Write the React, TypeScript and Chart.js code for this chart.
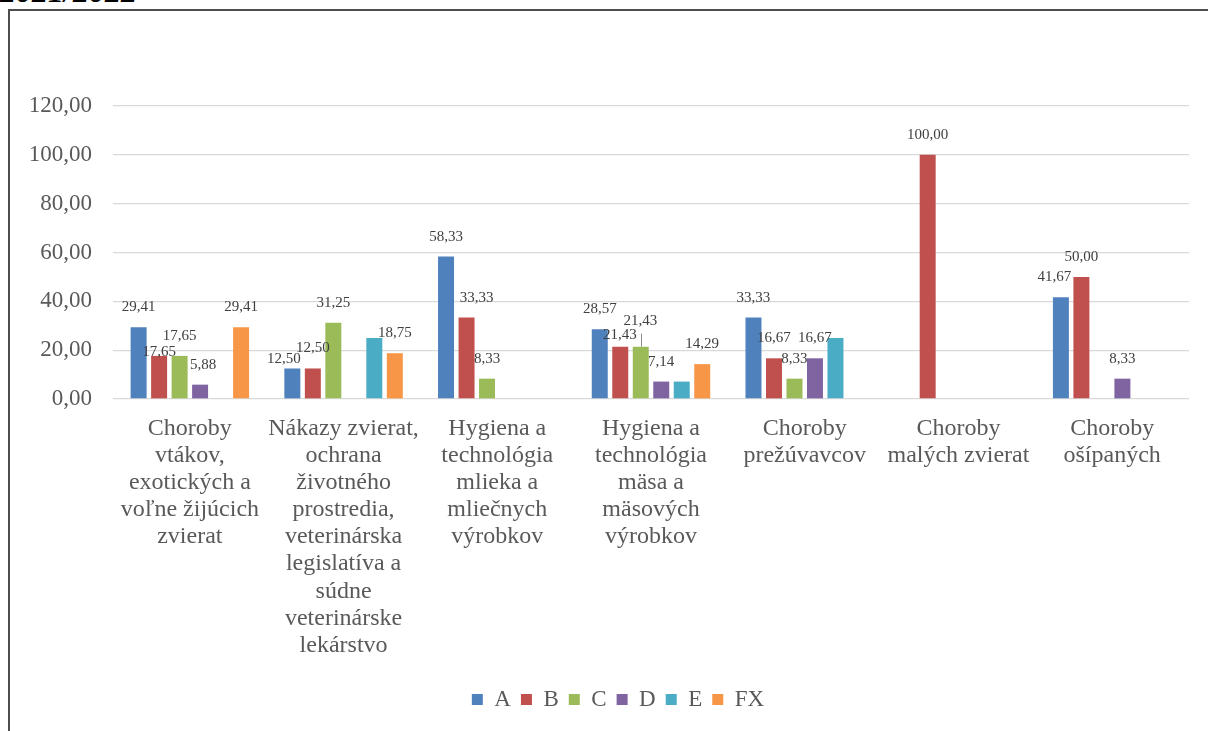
import React, { useEffect, useRef } from "react";
import { Chart, registerables } from "chart.js";

Chart.register(...registerables);

const categories: string[][] = [
  ["Choroby", "vtákov,", "exotických a", "voľne žijúcich", "zvierat"],
  ["Nákazy zvierat,", "ochrana", "životného", "prostredia,", "veterinárska", "legislatíva a", "súdne", "veterinárske", "lekárstvo"],
  ["Hygiena a", "technológia", "mlieka a", "mliečnych", "výrobkov"],
  ["Hygiena a", "technológia", "mäsa a", "mäsových", "výrobkov"],
  ["Choroby", "prežúvavcov"],
  ["Choroby", "malých zvierat"],
  ["Choroby", "ošípaných"],
];

const seriesNames = ["A", "B", "C", "D", "E", "FX"];
const valuesA = [29.41, 12.5, 58.33, 28.57, 33.33, null, 41.67];
const valuesB = [17.65, 12.5, 33.33, 21.43, 16.67, 100.0, 50.0];
const valuesC = [17.65, 31.25, 8.33, 21.43, 8.33, null, null];
const valuesD = [5.88, null, null, 7.14, 16.67, null, 8.33];
const valuesE = [null, 25.0, null, 7.14, 25.0, null, null];
const valuesFX = [29.41, 18.75, null, 14.29, null, null, null];
const seriesColors = ["#4F81BD", "#C0504D", "#9BBB59", "#8064A2", "#4BACC6", "#F79646"];
const showLabels = [true, true, true, true, false, true];
const yTicks = [0, 20, 40, 60, 80, 100, 120];

// label nudges (dataset-index) relative to default position above bar
const labelNudge: Record<string, [number, number, boolean?]> = {
  "1-0": [0, 16],
  "3-0": [3, 0],
  "0-1": [-8.5, 11],
  "1-2": [10, 0],
  "1-3": [-0.5, 8],
  "2-3": [-0.5, -6, true],
  "0-6": [-6.5, 0],
};

const fmt = (v: number) => v.toFixed(2).replace(".", ",");

const dataLabelPlugin = {
  id: "dataLabels",
  afterDatasetsDraw(chart: any) {
    const ctx = chart.ctx;
    ctx.save();
    ctx.font = '15px "Liberation Serif"';
    ctx.fillStyle = "#404040";
    ctx.textAlign = "center";
    ctx.textBaseline = "middle";
    chart.data.datasets.forEach((ds: any, di: number) => {
      if (!showLabels[di]) return;
      const meta = chart.getDatasetMeta(di);
      meta.data.forEach((bar: any, i: number) => {
        const v = ds.data[i];
        if (v === null || v === undefined) return;
        const n = labelNudge[`${di}-${i}`] || [0, 0];
        const lx = bar.x + n[0];
        const ly = bar.y - 20 + n[1];
        if (n[2]) {
          ctx.strokeStyle = "#8c8c8c";
          ctx.lineWidth = 1;
          ctx.beginPath();
          ctx.moveTo(Math.round(bar.x) + 0.5, bar.y);
          ctx.lineTo(Math.round(bar.x) + 0.5, ly + 13);
          ctx.stroke();
        }
        ctx.fillText(fmt(v), lx, ly);
      });
    });
    ctx.restore();
  },
};

export default function App() {
  const ref = useRef<HTMLCanvasElement | null>(null);
  useEffect(() => {
    if (!ref.current) return;
    const all = [valuesA, valuesB, valuesC, valuesD, valuesE, valuesFX];
    const chart = new Chart(ref.current, {
      type: "bar",
      data: {
        labels: categories,
        datasets: all.map((d, i) => ({
          label: seriesNames[i],
          data: d,
          backgroundColor: seriesColors[i],
          borderWidth: 0,
          categoryPercentage: 0.8,
          barPercentage: 0.78,
        })),
      },
      options: {
        responsive: false,
        animation: false,
        layout: { padding: { left: 0, right: 0, top: 95, bottom: 10 } },
        plugins: {
          tooltip: { enabled: false },
          legend: {
            position: "bottom",
            labels: {
              font: { family: "Liberation Serif", size: 23 },
              color: "#595959",
              boxWidth: 11,
              boxHeight: 11,
              padding: 10,
            },
          },
        },
        scales: {
          x: {
            grid: { display: false },
            border: { display: false },
            ticks: {
              font: { family: "Liberation Serif", size: 24, lineHeight: 1.13 },
              color: "#595959",
              padding: 8,
              maxRotation: 0,
              autoSkip: false,
            },
            afterFit: (s: any) => {
              s.height = 279;
            },
          },
          y: {
            min: 0,
            max: 120,
            afterBuildTicks: (s: any) => {
              s.ticks = yTicks.map((v) => ({ value: v }));
            },
            grid: { color: "#D9D9D9", lineWidth: 1.3, drawTicks: false },
            border: { display: false },
            ticks: {
              font: { family: "Liberation Serif", size: 23 },
              color: "#595959",
              padding: 21,
              callback: (v: any) => fmt(Number(v)),
            },
            afterFit: (s: any) => {
              s.width = 103;
            },
          },
          yRight: {
            type: "linear",
            position: "right",
            display: true,
            grid: { display: false, drawTicks: false },
            border: { display: false },
            ticks: { display: false },
            afterFit: (s: any) => {
              s.width = 37;
            },
          },
        },
      },
      plugins: [dataLabelPlugin],
    });
    return () => chart.destroy();
  }, []);

  return (
    <div style={{ position: "fixed", left: 0, top: 0, width: 1208, height: 731, overflow: "hidden", background: "#fff" }}>
      <div
        style={{
          position: "absolute",
          left: 0,
          top: -25,
          font: 'italic bold 32px/32px "Liberation Serif"',
          color: "#000",
          whiteSpace: "nowrap",
        }}
      >
        2021/2022
      </div>
      <div
        style={{
          position: "absolute",
          left: 8,
          top: 9,
          width: 1300,
          height: 800,
          border: "2px solid #4d4d4d",
          boxSizing: "border-box",
        }}
      />
      <canvas ref={ref} width={1216} height={720} style={{ position: "absolute", left: 10, top: 11 }} />
    </div>
  );
}
